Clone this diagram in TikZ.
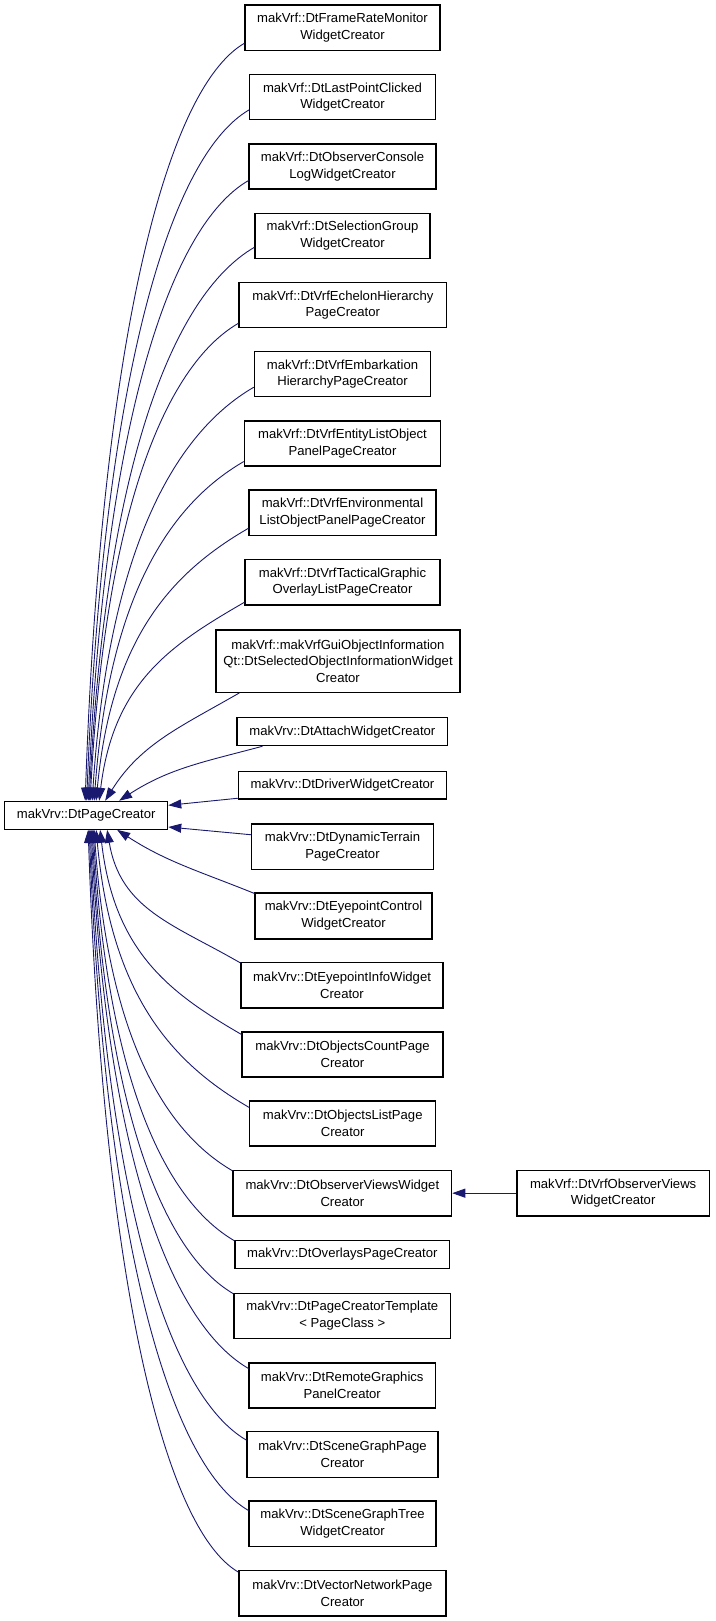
\documentclass[tikz,border=0pt]{standalone}
\usepackage{fontspec}
\setmainfont{Liberation Sans}
\usetikzlibrary{arrows.meta,calc}
\definecolor{edgecol}{HTML}{191970}
\tikzset{
  box/.style={draw=black, line width=1.1pt, fill=white, align=center, inner sep=0pt,
    font=\fontsize{13.1}{16.8}\selectfont},
  edge/.style={draw=edgecol, line width=0.9pt, -{Triangle[length=13pt,width=9pt]}},
}
\newcommand{\bx}[6]{\node[box, minimum width={(#3-#2)*1pt}, minimum height={(#5-#4)*1pt}] (#1) at ({(#2+#3)/2},{(#4+#5)/2}) {#6};}
\newcommand{\gedge}[2]{\draw[edge] let \p1=(#1), \p2=(#2) in (\p1) .. controls ({\x1-0.5*(\x1-\x2)},{\y1-0.29*(\x1-\x2)*sign(\y1-\y2)}) and ({\x2+0.1*(\x1-\x2)},{\y2+0.6*(\y1-\y2)}) .. (\p2);}
\begin{document}
\begin{tikzpicture}[x=1pt,y=-1pt]
\useasboundingbox (0,0) rectangle (715,1621);
\fill[white] (0,0) rectangle (715,1621);
\bx{c1}{245}{440}{5}{50.7}{makVrf::DtFrameRateMonitor\\WidgetCreator}
\bx{c2}{249.7}{435.3}{74.7}{119.7}{makVrf::DtLastPointClicked\\WidgetCreator}
\bx{c3}{249}{436}{144}{189}{makVrf::DtObserverConsole\\LogWidgetCreator}
\bx{c4}{255}{430}{213.3}{258.7}{makVrf::DtSelectionGroup\\WidgetCreator}
\bx{c5}{239}{446.7}{282.7}{327.7}{makVrf::DtVrfEchelonHierarchy\\PageCreator}
\bx{c6}{254.3}{430.7}{351.7}{396.7}{makVrf::DtVrfEmbarkation\\HierarchyPageCreator}
\bx{c7}{244.3}{440.7}{421}{466}{makVrf::DtVrfEntityListObject\\PanelPageCreator}
\bx{c8}{249}{436}{490}{535.7}{makVrf::DtVrfEnvironmental\\ListObjectPanelPageCreator}
\bx{c9}{245}{440}{559.3}{605}{makVrf::DtVrfTacticalGraphic\\OverlayListPageCreator}
\bx{c10}{216}{460}{630}{692.3}{makVrf::makVrfGuiObjectInformation\\Qt::DtSelectedObjectInformationWidget\\Creator}
\bx{c11}{237}{447.7}{717.7}{745.7}{makVrv::DtAttachWidgetCreator}
\bx{c12}{238.3}{446.7}{771.7}{799}{makVrv::DtDriverWidgetCreator}
\bx{pc}{4.7}{167.7}{801.3}{829.3}{makVrv::DtPageCreator}
\bx{c13}{251.7}{433.3}{824}{869.5}{makVrv::DtDynamicTerrain\\PageCreator}
\bx{c14}{255}{432}{893}{939}{makVrv::DtEyepointControl\\WidgetCreator}
\bx{c15}{241}{443}{962.5}{1008}{makVrv::DtEyepointInfoWidget\\Creator}
\bx{c16}{242}{443}{1032}{1077}{makVrv::DtObjectsCountPage\\Creator}
\bx{c17}{249.7}{435.7}{1101}{1146}{makVrv::DtObjectsListPage\\Creator}
\bx{c18}{233}{451.7}{1170.3}{1216}{makVrv::DtObserverViewsWidget\\Creator}
\bx{c19}{235}{449.7}{1240.3}{1268.3}{makVrv::DtOverlaysPageCreator}
\bx{c20}{234}{450.7}{1293.3}{1338.3}{makVrv::DtPageCreatorTemplate\\< PageClass >}
\bx{c21}{249}{435.5}{1363}{1408}{makVrv::DtRemoteGraphics\\PanelCreator}
\bx{c22}{247}{438}{1431.7}{1477.3}{makVrv::DtSceneGraphPage\\Creator}
\bx{c23}{249}{436}{1501}{1546.3}{makVrv::DtSceneGraphTree\\WidgetCreator}
\bx{c24}{239}{446}{1570.7}{1616}{makVrv::DtVectorNetworkPage\\Creator}
\bx{c25}{517}{709.3}{1170.3}{1216}{makVrf::DtVrfObserverViews\\WidgetCreator}
% upper edges
\gedge{[yshift=8pt]c1.south west}{[xshift=81pt]pc.north west}
\gedge{[yshift=10.4pt]c2.south west}{[xshift=82.5pt]pc.north west}
\gedge{[yshift=9pt]c3.south west}{[xshift=84pt]pc.north west}
\gedge{[yshift=12pt]c4.south west}{[xshift=85pt]pc.north west}
\gedge{[yshift=5pt]c5.south west}{[xshift=86pt]pc.north west}
\gedge{[yshift=10pt]c6.south west}{[xshift=88pt]pc.north west}
\gedge{[yshift=5pt]c7.south west}{[xshift=90pt]pc.north west}
\gedge{[yshift=8pt]c8.south west}{[xshift=92pt]pc.north west}
\gedge{[yshift=3.3pt]c9.south west}{[xshift=95pt]pc.north west}
\draw[edge] ([xshift=24pt]c10.south west) to[out=210,in=58] ([xshift=101pt]pc.north west);
\draw[edge] ([xshift=26pt]c11.south west) to[out=195,in=33] ([xshift=115pt]pc.north west);
\draw[edge] ([yshift=1.3pt]c12.south west) -- ([yshift=10pt]pc.east);
\draw[edge] ([yshift=-11.3pt]c13.north west) -- ([yshift=-11.7pt]pc.east);
% lower edges
\draw[edge] ([yshift=-1pt]c14.north west) to[out=158,in=-33] ([xshift=113pt]pc.south west);
\gedge{[yshift=-1pt]c15.north west}{[xshift=103pt]pc.south west}
\gedge{[yshift=-3pt]c16.north west}{[xshift=96pt]pc.south west}
\gedge{[yshift=-7pt]c17.north west}{[xshift=92pt]pc.south west}
\gedge{[yshift=-1pt]c18.north west}{[xshift=90pt]pc.south west}
\gedge{[yshift=-1pt]c19.north west}{[xshift=89pt]pc.south west}
\gedge{[yshift=-1pt]c20.north west}{[xshift=88pt]pc.south west}
\gedge{[yshift=-6pt]c21.north west}{[xshift=87pt]pc.south west}
\gedge{[yshift=-9pt]c22.north west}{[xshift=86pt]pc.south west}
\gedge{[yshift=-10pt]c23.north west}{[xshift=85pt]pc.south west}
\gedge{[yshift=-2pt]c24.north west}{[xshift=84pt]pc.south west}
\draw[edge] (c25.west) -- (c18.east);
\end{tikzpicture}
\end{document}
